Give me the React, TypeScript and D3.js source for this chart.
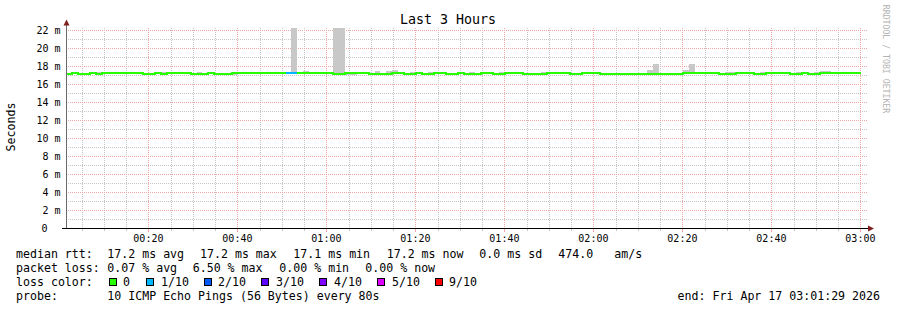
import React from 'react';
import * as d3 from 'd3';

const W = 897;
const H = 310;
const START = Date.UTC(2026, 3, 17, 0, 1, 29);
const END = Date.UTC(2026, 3, 17, 3, 1, 29);
const STEP_SECONDS = 80;

// median rtt per 80 s step (ms)
const medianMs = [
  17.11, 17.22, 17.11, 17.11, 17.22, 17.11, 17.22, 17.22, 17.22, 17.22,
  17.22, 17.22, 17.22, 17.11, 17.11, 17.22, 17.11, 17.22, 17.22, 17.22,
  17.22, 17.11, 17.11, 17.11, 17.22, 17.11, 17.11, 17.11, 17.22, 17.22,
  17.22, 17.22, 17.22, 17.22, 17.22, 17.22, 17.22, 17.22, 17.22, 17.22,
  17.22, 17.22, 17.22, 17.22, 17.22, 17.11, 17.11, 17.22, 17.22, 17.22,
  17.22, 17.11, 17.11, 17.11, 17.11, 17.22, 17.22, 17.11, 17.11, 17.22,
  17.11, 17.11, 17.22, 17.22, 17.11, 17.11, 17.22, 17.11, 17.11, 17.11,
  17.22, 17.22, 17.11, 17.11, 17.22, 17.22, 17.22, 17.11, 17.11, 17.11,
  17.11, 17.22, 17.22, 17.22, 17.22, 17.11, 17.11, 17.22, 17.22, 17.22,
  17.11, 17.11, 17.11, 17.11, 17.11, 17.11, 17.11, 17.11, 17.11, 17.11,
  17.11, 17.11, 17.11, 17.11, 17.22, 17.22, 17.22, 17.22, 17.22, 17.22,
  17.11, 17.11, 17.11, 17.22, 17.22, 17.22, 17.11, 17.11, 17.22, 17.22,
  17.22, 17.22, 17.11, 17.11, 17.22, 17.11, 17.11, 17.22, 17.22, 17.22,
  17.22, 17.22, 17.22, 17.22,
];

// steps with packet loss (tenths of pings lost)
const lossSteps = [37, 38];
const lossTenths = [1, 1];

// smoke (ping spread) where visible
const smokeSteps = [5, 16, 22, 28, 38, 40, 45, 46, 47, 48, 52, 54, 55, 58, 61, 68, 73, 80, 98, 99, 104, 105, 111, 112, 117, 123, 126, 127, 128];
const smokeLow = [17.11, 17.11, 17.11, 17.0, 17.22, 17.22, 17.11, 16.95, 16.95, 16.95, 17.11, 17.11, 17.22, 17.11, 17.11, 17.11, 17.11, 17.11, 17.11, 17.11, 17.22, 17.22, 17.11, 17.11, 17.11, 17.11, 17.11, 17.22, 17.22];
const smokeHigh = [17.3, 17.3, 17.3, 17.22, 30, 17.4, 30, 30, 17.22, 17.22, 17.4, 17.4, 17.6, 17.35, 17.3, 17.3, 17.3, 17.3, 17.6, 18.2, 17.6, 18.2, 17.3, 17.3, 17.3, 17.3, 17.3, 17.4, 17.4];

const yTickValues = [0, 2, 4, 6, 8, 10, 12, 14, 16, 18, 20, 22];
const lossLegendLabels = ['0', '1/10', '2/10', '3/10', '4/10', '5/10', '9/10'];
const lossLegendTenths = [0, 1, 2, 3, 4, 5, 9];

const lossColor = (t: number) =>
  t === 0 ? '#26ff00' : t === 1 ? '#00b8ff' : t === 2 ? '#0059ff' : t === 3 ? '#5e00ff' : t === 4 ? '#7e00ff' : t <= 8 ? '#dd00ff' : '#ff0000';

const FONT = 'DejaVu Sans Mono, monospace';
const MAJOR = '#eea6a6';
const MINOR = '#c6c6c6';

export default function App() {
  const x = d3.scaleUtc().domain([START, END]).range([66, 867]);
  const y = d3.scaleLinear().domain([0, 200 / 9]).range([228, 28]);
  const stepT = (i: number) => START + i * STEP_SECONDS * 1000;

  const minorX = x.ticks(d3.utcMinute.every(5) as any).filter((d) => d.getUTCMinutes() % 20 !== 0);
  const majorX = x.ticks(d3.utcMinute.every(20) as any);
  const fmt = d3.utcFormat('%H:%M');
  const px = (v: number) => Math.round(v) + 0.5;

  const yMinor = d3.range(1, 23, 2);
  const yMajor = yTickValues.filter((v) => v > 0);

  const lossAt = (i: number) => {
    const k = lossSteps.indexOf(i);
    return k >= 0 ? lossTenths[k] : 0;
  };
  const runs: { loss: number; idx: number[] }[] = [];
  medianMs.forEach((_, i) => {
    const l = lossAt(i);
    if (runs.length && runs[runs.length - 1].loss === l) runs[runs.length - 1].idx.push(i);
    else runs.push({ loss: l, idx: [i] });
  });
  const line = d3
    .line<[number, number]>()
    .x((d) => x(d[0]))
    .y((d) => y(d[1]))
    .curve(d3.curveStepAfter);

  const legendY = [254, 268, 282, 296];
  const boxX = [109, 146, 204, 261, 319, 377, 435];
  const labX = [123, 161, 218, 276, 334, 392, 449];

  return (
    <svg width={W} height={H} style={{ position: 'absolute', left: 0, top: 0, background: '#fff' }} fontFamily={FONT}>
      <defs>
        <clipPath id="plot">
          <rect x={66} y={28} width={801} height={200} />
        </clipPath>
      </defs>
      <rect x={0} y={0} width={W} height={H} fill="#fff" />
      <g shapeRendering="crispEdges" strokeDasharray="1,1" strokeWidth={1}>
        {yMinor.map((v) => (
          <line key={'ym' + v} x1={66} x2={867} y1={px(y(v))} y2={px(y(v))} stroke={MINOR} />
        ))}
        {minorX.map((d) => (
          <line key={'xm' + +d} x1={px(x(d))} x2={px(x(d))} y1={28} y2={228} stroke={MINOR} />
        ))}
        {yMajor.map((v) => (
          <line key={'yM' + v} x1={66} x2={867} y1={px(y(v))} y2={px(y(v))} stroke={MAJOR} />
        ))}
        {majorX.map((d) => (
          <line key={'xM' + +d} x1={px(x(d))} x2={px(x(d))} y1={28} y2={228} stroke={MAJOR} />
        ))}
      </g>
      <g shapeRendering="crispEdges">
        {minorX.map((d) => (
          <line key={'tm' + +d} x1={px(x(d))} x2={px(x(d))} y1={228} y2={231} stroke={MINOR} />
        ))}
        {majorX.map((d) => (
          <line key={'tM' + +d} x1={px(x(d))} x2={px(x(d))} y1={228} y2={232} stroke={MAJOR} />
        ))}
      </g>
      <g clipPath="url(#plot)" shapeRendering="crispEdges">
        {smokeSteps.map((s, k) => (
          <rect
            key={'s' + s}
            x={x(stepT(s))}
            width={x(stepT(s + 1)) - x(stepT(s))}
            y={y(smokeHigh[k])}
            height={y(smokeLow[k]) - y(smokeHigh[k])}
            fill="#c8c8c8"
          />
        ))}
      </g>
      <g clipPath="url(#plot)">
        {runs.map((r, k) => {
          const pts: [number, number][] = r.idx.map((i) => [stepT(i), medianMs[i]]);
          const last = r.idx[r.idx.length - 1];
          pts.push([stepT(last + 1), medianMs[last]]);
          return (
            <path key={'r' + k} d={line(pts) || ''} fill="none" stroke={lossColor(r.loss)} strokeWidth={2} shapeRendering="crispEdges" />
          );
        })}
      </g>
      <g shapeRendering="crispEdges">
        <line x1={66.5} x2={66.5} y1={24} y2={228} stroke="#6a6a6a" />
        <line x1={62} x2={869} y1={228.5} y2={228.5} stroke="#000" />
      </g>
      <path d="M63.5,25.5 L66.5,19.5 L69.5,25.5 Z" fill="#801f1f" />
      <path d="M868,225.5 L874,228.5 L868,231.5 Z" fill="#801f1f" />
      <g fontSize={10} fill="#000">
        {yTickValues.map((v) => (
          <text key={'yl' + v} x={v === 0 ? 47.5 : 60.5} y={y(v)} textAnchor="end" dominantBaseline="central">
            {v === 0 ? '0' : `${v} m`}
          </text>
        ))}
      </g>
      <g fontSize={10} fill="#000">
        {majorX.map((d) => (
          <text key={'xl' + +d} x={x(d)} y={238.5} textAnchor="middle" dominantBaseline="central">
            {fmt(d)}
          </text>
        ))}
      </g>
      <text x={448} y={19.5} textAnchor="middle" dominantBaseline="central" fontSize={13.3} fill="#000">
        Last 3 Hours
      </text>
      <text transform="translate(11,127) rotate(-90)" textAnchor="middle" dominantBaseline="central" fontSize={11.6} fill="#000">
        Seconds
      </text>
      <text transform="translate(886,59) rotate(90)" textAnchor="middle" dominantBaseline="central" fontSize={8.2} fill="#b4b4b4">
        RRDTOOL / TOBI OETIKER
      </text>
      <g fontSize={11.6} fill="#000" dominantBaseline="central">
        <text x={16} y={legendY[0]}>median rtt:</text>
        <text x={107.3} y={legendY[0]}>17.2 ms avg</text>
        <text x={200} y={legendY[0]}>17.2 ms max</text>
        <text x={293.3} y={legendY[0]}>17.1 ms min</text>
        <text x={386.7} y={legendY[0]}>17.2 ms now</text>
        <text x={479.3} y={legendY[0]}>0.0 ms sd</text>
        <text x={558.3} y={legendY[0]}>474.0</text>
        <text x={614.3} y={legendY[0]}>am/s</text>

        <text x={16} y={legendY[1]}>packet loss:</text>
        <text x={107.3} y={legendY[1]}>0.07 % avg</text>
        <text x={192.7} y={legendY[1]}>6.50 % max</text>
        <text x={279.3} y={legendY[1]}>0.00 % min</text>
        <text x={365.3} y={legendY[1]}>0.00 % now</text>

        <text x={16} y={legendY[2]}>loss color:</text>
        {lossLegendLabels.map((l, k) => (
          <g key={'lg' + k}>
            <rect x={boxX[k] + 0.5} y={278.5} width={7} height={7} fill={lossColor(lossLegendTenths[k])} stroke="#000" shapeRendering="crispEdges" />
            <text x={labX[k]} y={legendY[2]}>{l}</text>
          </g>
        ))}

        <text x={16} y={legendY[3]}>probe:</text>
        <text x={107.3} y={legendY[3]}>10 ICMP Echo Pings (56 Bytes) every 80s</text>
        <text x={880} y={legendY[3]} textAnchor="end">end: Fri Apr 17 03:01:29 2026</text>
      </g>
    </svg>
  );
}
